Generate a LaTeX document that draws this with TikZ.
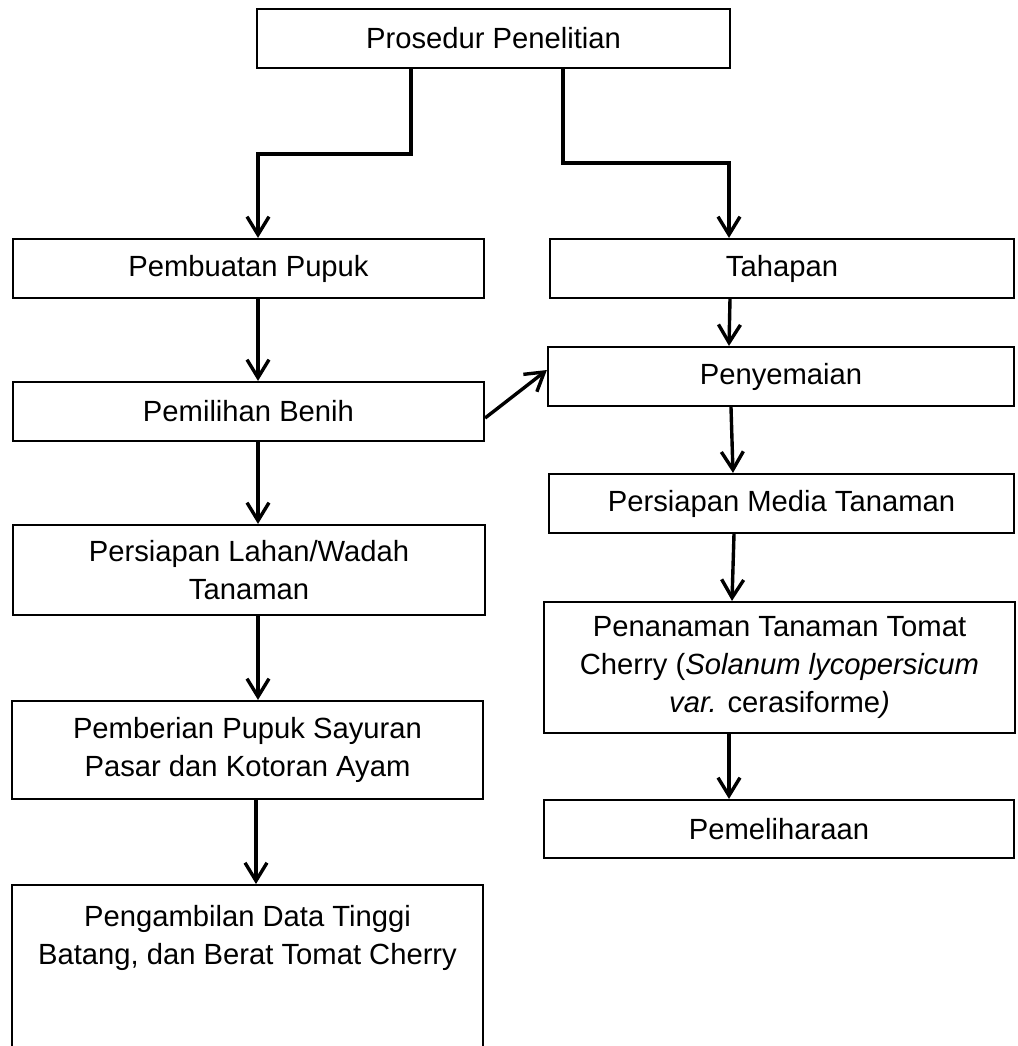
\documentclass[tikz,border=0pt]{standalone}
\usepackage{fontspec}
\setmainfont{Liberation Sans}
\usetikzlibrary{arrows.meta}
\begin{document}
\begin{tikzpicture}[x=0.5pt,y=-0.5pt,
  box/.style={draw,line width=1.1pt,align=center,inner sep=0pt,
    font=\fontsize{14.6pt}{19pt}\selectfont},
  link/.style={line width=1.7pt,-{Straight Barb[length=9pt,width=11pt]}}]
\useasboundingbox (0,0) rectangle (1018,1046);
% top
\node[box,minimum width=236.5pt,minimum height=29.5pt] (prosedur) at (493.5,38.5) {Prosedur Penelitian};
% left column
\node[box,minimum width=235.5pt,minimum height=29.5pt] (pupuk) at (248.5,268.5) {Pembuatan Pupuk};
\node[box,minimum width=235.5pt,minimum height=29.5pt] (benih) at (248.5,411.5) {Pemilihan Benih};
\node[box,minimum width=236pt,minimum height=45pt] (lahan) at (249,570) {Persiapan Lahan/Wadah\\Tanaman};
\node[box,minimum width=235.5pt,minimum height=49pt] (pemberian) at (247.5,750) {Pemberian Pupuk Sayuran\\Pasar dan Kotoran Ayam};
\node[box,minimum width=235.5pt,anchor=north,inner ysep=10pt,text depth=90pt] (data) at (247.5,884)
  {Pengambilan Data Tinggi\\Batang, dan Berat Tomat Cherry};
% right column
\node[box,minimum width=232pt,minimum height=29.5pt] (tahapan) at (782,268.5) {Tahapan};
\node[box,minimum width=233pt,minimum height=29.5pt] (semai) at (781,376.5) {Penyemaian};
\node[box,minimum width=232.5pt,minimum height=29.5pt] (media) at (781.5,503.5) {Persiapan Media Tanaman};
\node[box,minimum width=235.5pt,minimum height=65.5pt] (tanam) at (779.5,667.5)
  {Penanaman Tanaman Tomat\\Cherry (\textit{Solanum lycopersicum}\\\textit{var.} cerasiforme\textit{)}};
\node[box,minimum width=235pt,minimum height=29pt] (pelihara) at (779,829) {Pemeliharaan};
% arrows
\draw[link] ([xshift=-41.25pt]prosedur.south) -- ++(0,85) -| ([xshift=4.75pt]pupuk.north);
\draw[link] ([xshift=34.75pt]prosedur.south) -- ++(0,94) -| ([xshift=-26.5pt]tahapan.north);
\draw[link] ([xshift=4.75pt]pupuk.south) -- ([xshift=4.75pt]benih.north);
\draw[link] ([xshift=4.75pt]benih.south) -- ([xshift=4.5pt]lahan.north);
\draw[link] ([xshift=4.5pt]lahan.south) -- ([xshift=5.25pt]pemberian.north);
\draw[link] ([xshift=4.25pt]pemberian.south) -- ([xshift=4.25pt]data.north);
\draw[link] ([yshift=-3.25pt]benih.east) -- ([yshift=3.25pt]semai.west);
\draw[link] ([xshift=-26pt]tahapan.south) -- ([xshift=-26pt]semai.north);
\draw[link] ([xshift=-25pt]semai.south) -- ([xshift=-24.25pt]media.north);
\draw[link] ([xshift=-23.75pt]media.south) -- ([xshift=-23.75pt]tanam.north);
\draw[link] ([xshift=-25.25pt]tanam.south) -- ([xshift=-25pt]pelihara.north);
\end{tikzpicture}
\end{document}
